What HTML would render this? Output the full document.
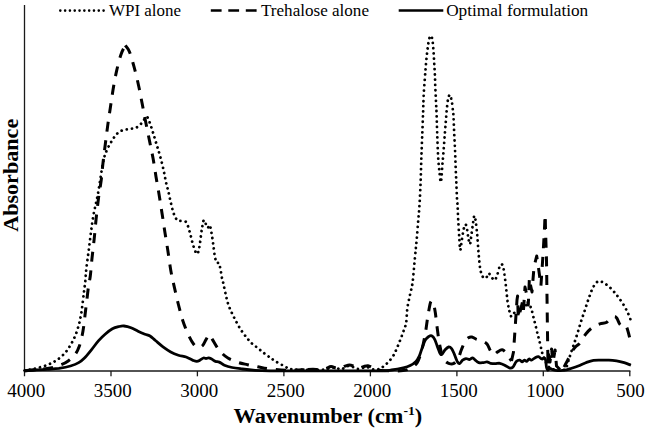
<!DOCTYPE html>
<html><head><meta charset="utf-8">
<style>
html,body{margin:0;padding:0;background:#fff;}
body{width:646px;height:430px;overflow:hidden;}
svg{display:block}
text{font-family:"Liberation Serif",serif;fill:#000}
</style></head><body>
<svg width="646" height="430" viewBox="0 0 646 430">
<rect width="646" height="430" fill="#fff"/>
<!-- axes -->
<g stroke="#1a1a1a" stroke-width="1.3" fill="none">
<line x1="24.5" y1="5" x2="24.5" y2="376.3"/>
<line x1="24" y1="371" x2="630.4" y2="371"/>
<line x1="111.0" y1="371" x2="111.0" y2="376.3"/>
<line x1="197.4" y1="371" x2="197.4" y2="376.3"/>
<line x1="283.9" y1="371" x2="283.9" y2="376.3"/>
<line x1="370.4" y1="371" x2="370.4" y2="376.3"/>
<line x1="456.9" y1="371" x2="456.9" y2="376.3"/>
<line x1="543.3" y1="371" x2="543.3" y2="376.3"/>
<line x1="629.8" y1="371" x2="629.8" y2="376.3"/>
</g>
<g font-size="18.3">
<text x="7.3" y="396.5" textLength="38.0" lengthAdjust="spacingAndGlyphs">4000</text>
<text x="93.8" y="396.5" textLength="38.0" lengthAdjust="spacingAndGlyphs">3500</text>
<text x="180.3" y="396.5" textLength="38.0" lengthAdjust="spacingAndGlyphs">3000</text>
<text x="266.8" y="396.5" textLength="38.0" lengthAdjust="spacingAndGlyphs">2500</text>
<text x="353.3" y="396.5" textLength="38.0" lengthAdjust="spacingAndGlyphs">2000</text>
<text x="439.8" y="396.5" textLength="38.0" lengthAdjust="spacingAndGlyphs">1500</text>
<text x="526.3" y="396.5" textLength="38.0" lengthAdjust="spacingAndGlyphs">1000</text>
<text x="616.2" y="396.5" textLength="28.5" lengthAdjust="spacingAndGlyphs">500</text>
</g>
<text x="233.6" y="422.5" font-size="20.5" font-weight="bold" textLength="188.6" lengthAdjust="spacingAndGlyphs">Wavenumber (cm<tspan font-size="12.5" dy="-8">-1</tspan><tspan dy="8">)</tspan></text>
<text transform="translate(17.6,231.8) rotate(-90)" font-size="21" font-weight="bold" textLength="113" lengthAdjust="spacingAndGlyphs">Absorbance</text>
<!-- legend -->
<g font-size="16">
<text x="109" y="15.7" textLength="72" lengthAdjust="spacingAndGlyphs">WPI alone</text>
<text x="261" y="15.7" textLength="108" lengthAdjust="spacingAndGlyphs">Trehalose alone</text>
<text x="446.2" y="15.7" textLength="142" lengthAdjust="spacingAndGlyphs">Optimal formulation</text>
</g>
<g stroke="#000" fill="none">
<line x1="60.3" y1="10.6" x2="104.5" y2="10.6" stroke-width="2.6" stroke-dasharray="0.01 4.8" stroke-linecap="round"/>
<line x1="210.8" y1="10.5" x2="257" y2="10.5" stroke-width="2.6" stroke-dasharray="10.8 6.7"/>
<line x1="398.7" y1="10.5" x2="443.3" y2="10.5" stroke-width="2.5"/>
</g>
<!--CURVES-->
<g fill="none" stroke="#000" stroke-linejoin="round">
<path d="M24.5,370.5C26.4,370.1 31.8,369.3 35.6,368.4C39.4,367.5 43.8,366.3 47.3,364.9C50.8,363.5 53.7,362.1 56.6,360.2C59.5,358.3 62.4,355.8 64.7,353.3C67.0,350.8 68.8,348.0 70.5,345.1C72.2,342.2 73.8,339.1 75.2,335.8C76.6,332.5 77.7,328.8 78.7,325.3C79.7,321.8 80.3,318.6 81.0,314.9C81.7,311.2 82.1,307.2 82.6,303.3C83.1,299.4 83.6,295.1 84.0,291.6C84.4,288.1 84.8,286.1 85.2,282.3C85.6,278.5 85.7,274.3 86.3,269.0C86.9,263.7 87.9,256.7 88.7,250.5C89.5,244.3 90.2,238.1 91.0,231.9C91.8,225.7 92.6,219.7 93.8,213.3C95.0,206.9 96.5,201.9 98.0,193.5C99.5,185.1 101.6,169.9 103.0,162.8C104.4,155.7 105.1,154.5 106.5,151.0C107.9,147.5 109.5,144.8 111.2,141.9C113.0,139.0 115.1,135.6 117.0,133.7C118.9,131.8 120.7,131.0 122.8,130.2C124.9,129.4 127.5,129.5 129.8,129.0C132.1,128.5 134.6,128.6 136.7,127.4C138.8,126.2 141.0,123.8 142.6,122.0C144.2,120.2 145.3,116.7 146.5,116.7C147.7,116.7 148.4,119.3 149.5,122.0C150.6,124.7 151.8,128.9 153.0,132.6C154.2,136.3 155.3,140.3 156.5,144.2C157.7,148.1 158.8,151.5 160.0,155.8C161.2,160.1 162.5,165.4 163.5,169.8C164.5,174.2 165.2,178.7 166.0,182.3C166.8,185.9 167.6,188.3 168.4,191.6C169.2,194.9 169.9,198.8 170.7,202.1C171.5,205.4 172.2,208.9 173.0,211.4C173.8,213.9 174.4,215.6 175.3,217.2C176.2,218.8 176.7,220.0 178.4,220.7C180.1,221.4 183.7,220.4 185.3,221.4C186.9,222.4 187.2,224.1 188.1,226.5C189.0,228.9 189.8,232.5 190.7,235.8C191.6,239.1 192.4,243.3 193.5,246.3C194.6,249.3 196.0,253.8 197.0,254.0C198.0,254.2 198.7,250.4 199.3,247.4C200.0,244.4 200.4,239.3 200.9,235.8C201.4,232.3 201.8,229.1 202.3,226.5C202.8,223.9 203.3,220.2 204.0,220.0C204.7,219.8 205.7,224.0 206.3,225.3C207.0,226.6 207.3,227.7 207.9,227.7C208.5,227.7 209.2,224.3 209.8,225.3C210.4,226.3 211.0,230.2 211.6,233.5C212.2,236.8 212.8,241.2 213.3,245.1C213.9,249.0 214.3,253.8 214.9,256.7C215.5,259.6 216.0,261.5 216.7,262.6C217.4,263.7 218.3,262.0 219.0,263.3C219.7,264.6 220.2,268.1 220.7,270.7C221.2,273.3 221.7,276.8 222.1,278.8C222.5,280.8 222.6,280.2 223.2,282.8C223.8,285.4 224.8,290.7 225.7,294.3C226.5,297.9 227.2,301.3 228.3,304.5C229.4,307.7 230.7,310.5 232.1,313.5C233.5,316.5 235.2,319.7 236.7,322.5C238.2,325.3 239.5,327.7 241.1,330.1C242.7,332.5 244.5,334.9 246.2,337.0C247.9,339.1 249.4,341.1 251.3,342.9C253.2,344.7 255.6,346.3 257.7,348.0C259.8,349.7 262.1,351.6 264.1,353.2C266.2,354.8 268.2,356.2 270.0,357.5C271.8,358.8 272.8,359.6 274.9,360.9C276.9,362.2 280.0,363.9 282.3,365.1C284.6,366.3 286.4,367.6 288.5,368.3C290.6,369.0 289.4,369.2 294.7,369.5C299.9,369.8 313.4,370.1 320.0,369.8C326.6,369.5 330.8,367.6 334.3,367.5C337.8,367.4 338.5,369.6 341.0,369.3C343.5,369.0 346.4,365.9 349.2,365.8C352.0,365.8 355.1,368.8 358.0,369.0C360.9,369.2 363.8,366.9 366.5,367.0C369.2,367.1 371.8,369.3 374.0,369.6C376.2,369.9 377.9,369.4 379.5,368.8C381.1,368.2 382.1,367.4 383.6,366.3C385.1,365.2 386.7,363.8 388.3,362.1C389.9,360.4 391.8,358.2 393.2,355.9C394.6,353.6 395.6,351.2 396.8,348.5C398.0,345.8 399.2,342.7 400.3,339.8C401.4,336.9 402.5,334.0 403.5,331.1C404.5,328.2 405.6,326.4 406.2,322.5C406.8,318.6 406.7,312.6 407.4,307.9C408.1,303.1 409.3,298.3 410.2,294.0C411.1,289.7 411.8,288.3 412.6,282.3C413.4,276.3 414.2,265.2 414.9,258.1C415.6,251.0 416.1,246.1 416.7,239.5C417.3,232.9 417.9,224.3 418.4,218.6C418.9,212.8 419.1,211.5 419.5,205.0C419.9,198.5 420.4,187.9 420.7,179.8C421.0,171.7 421.1,164.2 421.4,156.5C421.7,148.8 422.0,140.2 422.3,133.3C422.6,126.4 422.8,119.5 423.0,115.0C423.2,110.5 423.2,109.4 423.3,106.0C423.4,102.6 423.5,98.7 423.7,94.4C423.9,90.2 424.4,84.8 424.7,80.5C425.0,76.2 425.3,72.5 425.6,68.8C425.9,65.1 426.1,61.9 426.5,58.4C426.9,54.9 427.2,51.2 427.7,47.9C428.2,44.6 428.7,40.6 429.3,38.6C429.9,36.6 430.6,35.3 431.2,35.8C431.8,36.3 432.2,38.8 432.6,41.4C433.0,44.0 433.2,47.8 433.5,51.4C433.8,55.0 434.0,59.1 434.2,63.0C434.4,66.9 434.7,70.6 434.9,74.7C435.1,78.8 435.1,83.0 435.3,87.4C435.5,91.9 435.8,97.0 436.0,101.4C436.2,105.8 436.4,108.7 436.6,114.0C436.8,119.3 436.9,126.2 437.2,133.3C437.4,140.4 437.8,150.3 438.1,156.5C438.5,162.7 438.8,166.2 439.3,170.5C439.8,174.8 440.4,182.9 440.9,182.1C441.4,181.3 441.9,170.8 442.3,165.8C442.7,160.8 443.1,156.9 443.5,151.9C443.9,146.9 444.3,140.7 444.7,135.6C445.1,130.5 445.5,125.2 445.8,121.6C446.1,118.0 446.2,116.4 446.4,114.0C446.6,111.6 446.7,109.7 447.0,107.2C447.3,104.7 447.6,101.1 448.1,99.1C448.6,97.0 449.2,94.7 449.8,94.9C450.4,95.1 451.1,97.8 451.6,100.2C452.1,102.6 452.5,107.0 452.8,109.5C453.1,112.0 453.2,111.8 453.4,115.0C453.6,118.2 453.8,123.2 454.0,128.6C454.2,134.0 454.6,141.0 454.9,147.2C455.2,153.4 455.4,160.0 455.6,165.8C455.8,171.6 456.1,176.7 456.3,182.1C456.5,187.5 456.8,194.4 457.0,198.4C457.2,202.4 457.4,202.6 457.6,206.0C457.8,209.4 457.9,213.8 458.1,218.6C458.4,223.4 458.8,229.7 459.1,234.9C459.5,240.1 459.7,249.2 460.2,250.0C460.7,250.8 461.3,243.0 461.9,239.5C462.5,236.0 463.1,231.6 463.7,229.1C464.3,226.6 465.0,224.2 465.6,224.4C466.2,224.6 466.7,227.9 467.2,230.2C467.7,232.5 467.9,236.1 468.4,238.4C468.9,240.7 469.5,244.8 470.0,244.2C470.5,243.6 470.9,238.4 471.4,234.9C471.9,231.4 472.5,226.5 473.0,223.3C473.5,220.1 473.9,216.0 474.4,215.8C474.9,215.6 475.4,219.3 475.8,222.1C476.2,224.9 476.6,228.9 477.0,232.6C477.4,236.3 477.6,240.3 477.9,244.2C478.2,248.1 478.4,251.9 478.8,255.8C479.2,259.7 479.5,264.3 480.0,267.4C480.5,270.5 480.9,272.6 481.6,274.4C482.3,276.2 483.3,278.0 484.2,278.4C485.1,278.8 486.2,277.5 487.0,276.7C487.8,275.9 488.1,273.3 488.8,273.3C489.5,273.3 490.2,275.6 491.2,276.7C492.2,277.8 493.7,280.6 494.7,280.2C495.7,279.8 496.5,276.7 497.4,274.4C498.2,272.1 499.0,267.9 499.8,266.3C500.6,264.7 501.4,263.8 502.1,264.5C502.8,265.2 503.4,267.8 503.9,270.5C504.4,273.2 504.9,277.3 505.3,281.0C505.8,284.7 506.2,289.0 506.6,292.7C507.0,296.4 507.3,300.0 507.8,303.1C508.3,306.2 508.9,309.2 509.5,311.5C510.1,313.8 510.7,316.5 511.6,316.7C512.5,316.9 513.7,313.1 514.7,312.5C515.8,311.9 517.0,313.2 517.9,313.0C518.8,312.8 519.1,312.4 520.0,311.5C520.9,310.6 522.1,308.4 523.1,307.3C524.1,306.2 525.2,305.6 526.2,305.2C527.2,304.8 528.5,304.5 529.4,305.2C530.3,305.9 530.8,307.3 531.5,309.4C532.2,311.5 532.9,315.0 533.6,317.8C534.3,320.6 535.0,323.3 535.7,326.1C536.4,328.9 537.1,332.1 537.7,334.5C538.3,336.9 538.8,338.2 539.4,340.8C540.0,343.4 540.9,347.5 541.5,350.0C542.1,352.5 542.4,353.8 543.0,355.6C543.6,357.4 544.5,359.3 545.3,361.0C546.1,362.7 546.9,364.7 548.0,366.0C549.1,367.3 550.3,368.3 552.0,369.0C553.7,369.7 556.2,369.9 558.0,370.0C559.8,370.1 561.7,370.0 563.0,369.8C564.3,369.6 564.9,370.5 565.9,368.6C566.9,366.7 568.0,361.9 569.2,358.3C570.4,354.7 571.7,350.6 573.0,346.8C574.3,343.0 575.6,339.4 576.9,335.3C578.2,331.2 579.4,326.6 580.7,322.5C582.0,318.4 583.3,314.9 584.6,311.0C585.9,307.1 587.1,303.0 588.4,299.4C589.7,295.8 590.9,292.0 592.2,289.2C593.5,286.4 594.8,284.1 596.1,282.8C597.4,281.5 598.6,281.5 599.9,281.5C601.2,281.5 602.3,281.9 603.8,282.8C605.3,283.7 607.2,285.1 608.9,286.6C610.6,288.1 612.3,289.9 614.0,291.8C615.7,293.7 617.4,295.9 619.1,298.2C620.8,300.5 622.7,303.2 624.2,305.8C625.7,308.4 627.0,311.1 628.1,313.5C629.2,315.9 630.2,318.8 630.6,319.9" stroke-width="2.8" stroke-linecap="round" stroke-dasharray="0.01 5.25"/>
<path d="M24.5,370.7C28.3,370.3 41.6,369.2 47.3,368.4C53.0,367.5 55.4,366.9 58.9,365.6C62.4,364.4 65.5,362.8 68.2,360.9C70.9,359.0 73.4,356.8 75.2,354.4C77.0,352.0 78.2,349.4 79.3,346.3C80.4,343.2 81.3,339.5 82.1,335.8C82.9,332.1 83.4,328.5 84.0,324.2C84.6,319.9 85.0,314.8 85.6,310.2C86.1,305.6 86.8,300.6 87.3,296.3C87.8,292.1 88.2,288.1 88.7,284.7C89.2,281.3 89.7,280.6 90.3,276.0C90.9,271.4 91.4,263.6 92.1,257.4C92.8,251.2 93.5,245.2 94.2,238.8C94.9,232.4 95.4,225.6 96.1,219.0C96.8,212.4 97.6,205.5 98.4,199.0C99.2,192.5 100.4,186.2 101.2,180.2C102.0,174.2 102.3,168.8 103.0,162.8C103.7,156.8 104.5,150.4 105.3,144.2C106.1,138.0 106.9,131.6 107.7,125.6C108.5,119.6 109.4,113.9 110.3,108.0C111.2,102.1 112.0,96.1 113.0,90.0C114.0,83.9 115.2,77.3 116.5,71.4C117.8,65.5 119.5,58.8 121.0,54.4C122.5,50.0 124.6,46.8 125.3,45.3" stroke-width="3" stroke-dasharray="10 8.7"/>
<path d="M125.3,45.3C126.0,46.3 127.9,47.8 129.3,51.4C130.8,55.0 132.5,61.2 134.0,66.7C135.5,72.2 137.1,78.6 138.4,84.7C139.8,90.8 140.9,97.2 142.1,103.3C143.3,109.4 144.4,115.3 145.6,121.5C146.8,127.7 148.3,134.6 149.5,140.7C150.7,146.8 151.9,152.0 153.0,158.0C154.1,164.0 155.0,170.5 156.0,176.7C157.0,182.9 158.2,189.0 159.2,195.2C160.2,201.4 161.1,207.5 162.1,213.7C163.1,219.9 163.9,226.1 164.9,232.3C165.9,238.5 166.9,244.5 167.9,250.9C168.9,257.3 169.7,264.3 170.8,270.5C171.9,276.7 173.2,282.2 174.5,287.9C175.8,293.6 177.0,298.9 178.4,304.5C179.8,310.1 181.3,316.1 183.0,321.2C184.7,326.3 186.8,331.5 188.6,335.3C190.4,339.1 192.1,342.2 193.7,344.2C195.3,346.2 196.8,347.3 198.3,347.5C199.8,347.7 201.4,346.8 202.7,345.5C204.0,344.2 204.9,341.4 206.0,339.6C207.1,337.8 208.1,334.8 209.1,334.7C210.1,334.6 210.9,337.1 212.2,339.1C213.5,341.1 215.2,344.5 216.8,346.8C218.4,349.1 220.0,351.3 221.9,353.2C223.8,355.1 225.8,356.8 228.3,358.3C230.9,359.8 234.0,361.0 237.2,362.1C240.4,363.2 244.1,363.9 247.5,364.7C250.9,365.5 253.9,366.0 257.7,366.7C261.4,367.4 264.6,368.4 270.0,369.0C275.4,369.6 283.7,370.3 290.0,370.4C296.3,370.5 304.8,369.7 307.7,369.6" stroke-width="3" stroke-dasharray="10 8.7"/>
<path d="M307.7,369.6C308.6,369.5 310.9,369.2 313.0,369.2C315.1,369.2 317.8,369.7 320.0,369.6C322.2,369.5 324.2,369.1 326.0,368.6C327.8,368.1 329.3,366.7 331.0,366.6C332.7,366.5 334.5,367.7 336.0,368.0C337.5,368.3 338.5,368.9 340.0,368.6C341.5,368.3 343.4,366.8 345.0,366.2C346.6,365.6 348.0,364.9 349.5,364.9C351.0,364.9 352.4,365.6 354.0,366.2C355.6,366.8 357.4,368.2 359.0,368.3C360.6,368.4 362.0,367.0 363.5,366.6C365.0,366.2 366.4,365.5 368.0,365.7C369.6,365.9 371.3,367.1 373.0,367.8C374.7,368.5 375.2,369.5 378.0,370.0C380.8,370.5 385.8,370.7 390.0,370.8C394.2,370.9 399.6,371.0 403.0,370.6C406.4,370.2 407.8,369.7 410.2,368.4C412.6,367.1 415.2,365.7 417.2,362.6C419.1,359.5 420.5,354.7 421.9,349.8C423.2,344.9 424.3,338.9 425.3,333.5C426.3,328.1 426.9,322.1 427.7,317.2C428.5,312.3 429.4,307.1 430.0,304.4C430.6,301.7 431.0,301.1 431.6,300.9C432.2,300.7 432.9,301.4 433.5,303.3C434.1,305.2 434.7,308.7 435.3,312.6C435.9,316.5 436.3,321.5 437.0,326.5C437.7,331.5 438.4,337.9 439.3,342.8C440.2,347.7 441.3,352.6 442.3,355.6C443.3,358.6 444.1,359.6 445.1,360.9C446.2,362.2 447.2,362.8 448.6,363.3C450.0,363.8 451.8,364.4 453.3,363.7C454.9,363.0 456.5,361.4 457.9,359.1C459.2,356.8 460.2,352.7 461.4,349.8C462.6,346.9 463.7,343.6 464.9,341.6C466.1,339.6 467.2,338.5 468.4,337.7C469.6,336.9 470.5,336.7 471.9,337.0C473.2,337.3 474.8,338.7 476.5,339.3C478.2,339.9 480.6,340.1 482.3,340.9C484.1,341.7 485.6,342.3 487.0,344.0C488.4,345.7 489.4,349.1 490.5,350.9C491.6,352.7 492.4,354.7 493.5,354.9C494.6,355.1 496.0,353.0 497.4,352.1C498.8,351.2 500.6,349.6 502.1,349.8C503.7,350.0 505.5,351.9 506.7,353.3C507.9,354.7 508.7,356.7 509.5,358.0C510.3,359.3 511.2,360.5 511.5,361.0" stroke-width="3" stroke-dasharray="10 8.7"/>
<path d="M511.5,361.0L513.5,352.0L515.0,330.0L517.0,300.0L517.6,296.0L518.2,318.0L520.0,312.0L522.5,302.0L523.5,310.0L525.0,287.0L527.0,296.0L528.3,305.0L529.4,278.0L530.5,285.0L532.0,292.0L534.0,267.0L536.7,256.0L538.8,270.0L540.9,286.0L542.4,264.0L543.3,250.0L545.0,219.0" stroke-width="3" stroke-dasharray="10 8.7"/>
<path d="M545.2,219.0L546.5,260.0L547.6,340.0L548.0,366.0L548.8,350.0L550.0,362.0L551.6,349.0L553.0,362.0L555.1,350.0L556.5,366.0L560.0,369.5L564.0,367.0" stroke-width="3" stroke-dasharray="10 8.7"/>
<path d="M564.0,367.0C564.4,366.2 565.3,364.7 566.6,362.2C567.9,359.7 570.3,354.5 571.8,351.9C573.3,349.3 574.3,348.2 575.6,346.8C576.9,345.4 577.7,345.6 579.4,343.5C581.1,341.4 583.7,336.6 585.8,334.0C587.9,331.4 589.9,329.3 592.2,327.6C594.6,325.9 597.5,324.7 599.9,323.8C602.2,322.9 604.4,323.6 606.3,322.5C608.2,321.4 609.9,318.3 611.4,317.4C612.9,316.4 614.3,316.6 615.3,316.8C616.2,317.0 616.2,317.2 617.1,318.6C618.0,320.0 619.2,324.1 620.4,325.0C621.6,325.9 623.1,323.9 624.2,324.3C625.3,324.7 625.9,325.6 626.8,327.6C627.7,329.7 628.7,333.8 629.4,336.6C630.1,339.4 630.6,342.9 630.9,344.2" stroke-width="3" stroke-dasharray="10 8.7"/>
<path d="M24.5,370.8C26.4,370.7 31.8,370.2 35.6,370.0C39.4,369.8 43.4,369.6 47.3,369.3C51.2,369.0 55.0,368.9 58.9,368.4C62.8,367.8 67.2,367.0 70.5,366.0C73.8,365.0 76.4,364.0 78.7,362.6C81.0,361.2 82.4,360.0 84.5,357.9C86.6,355.8 89.1,352.6 91.4,349.8C93.7,347.0 96.1,343.5 98.4,340.9C100.7,338.3 103.1,336.0 105.4,334.0C107.7,332.0 110.1,330.1 112.4,328.8C114.7,327.6 117.4,327.0 119.3,326.5C121.2,326.0 122.0,325.8 124.0,326.0C126.0,326.2 128.7,326.8 131.0,327.7C133.3,328.6 135.7,330.1 138.0,331.2C140.3,332.3 142.9,333.4 144.9,334.2C146.9,335.0 148.2,334.9 150.0,336.0C151.8,337.1 153.2,338.7 155.4,340.5C157.6,342.3 160.4,344.9 163.0,346.8C165.6,348.7 168.1,350.5 170.7,351.9C173.3,353.3 175.8,354.3 178.4,355.2C181.0,356.1 183.8,356.2 186.1,357.0C188.4,357.8 190.7,359.4 192.5,360.1C194.3,360.8 195.5,361.4 196.8,361.4C198.1,361.4 199.0,360.7 200.1,360.1C201.2,359.5 202.5,358.3 203.5,358.0C204.5,357.7 205.2,358.5 206.0,358.5C206.8,358.5 207.7,357.7 208.6,357.8C209.5,357.9 210.4,358.4 211.6,359.0C212.8,359.6 214.2,360.9 215.5,361.4C216.8,361.9 217.8,361.5 219.3,362.1C220.8,362.7 222.3,364.3 224.4,365.2C226.5,366.1 229.1,366.9 232.1,367.5C235.1,368.1 238.6,368.5 242.4,369.0C246.2,369.5 250.6,370.0 255.2,370.3C259.8,370.6 262.5,370.7 270.0,370.8C277.5,370.9 288.3,370.9 300.0,370.9C311.7,370.9 326.7,370.9 340.0,370.9C353.3,370.9 371.4,370.9 380.0,370.8C388.6,370.7 387.7,370.5 391.6,370.0C395.5,369.5 400.2,368.6 403.3,367.9C406.4,367.2 408.1,366.7 410.2,365.6C412.3,364.5 414.4,363.1 416.0,361.4C417.6,359.7 418.4,357.9 419.5,355.6C420.6,353.3 421.3,350.0 422.3,347.4C423.3,344.8 424.2,341.8 425.3,340.0C426.4,338.2 427.8,337.2 428.8,336.5C429.9,335.8 430.6,335.3 431.6,335.8C432.6,336.3 433.7,337.4 434.7,339.3C435.7,341.2 436.8,345.1 437.7,347.4C438.6,349.7 439.3,352.1 440.0,353.3C440.7,354.5 441.0,355.0 441.9,354.4C442.8,353.8 444.0,351.0 445.1,349.8C446.2,348.6 447.5,347.2 448.6,347.0C449.7,346.8 450.6,347.4 451.6,348.6C452.6,349.8 453.5,352.3 454.4,354.4C455.3,356.5 456.3,359.8 457.2,361.4C458.1,362.9 458.6,363.9 459.5,363.7C460.4,363.5 461.5,361.0 462.6,360.2C463.7,359.4 464.9,358.7 466.0,358.6C467.1,358.5 468.4,359.6 469.5,359.5C470.6,359.4 471.6,357.8 472.6,357.9C473.6,358.0 474.3,359.4 475.3,360.2C476.3,361.0 477.4,362.2 478.8,362.6C480.2,363.0 482.1,362.7 483.5,362.6C484.9,362.5 485.8,361.8 487.0,361.9C488.2,362.0 489.1,363.0 490.5,363.3C491.9,363.6 493.6,363.7 495.1,363.7C496.7,363.7 498.2,363.1 499.8,363.3C501.4,363.6 503.1,364.4 504.7,365.2C506.3,366.0 508.0,367.6 509.3,367.9C510.6,368.2 511.6,368.3 512.8,367.2C514.0,366.1 515.1,362.6 516.3,361.4C517.5,360.2 518.8,360.1 519.8,360.2C520.8,360.3 521.3,361.9 522.1,361.9C522.9,361.9 523.6,360.3 524.4,360.2C525.2,360.1 525.9,361.6 526.7,361.4C527.5,361.2 528.2,359.2 529.0,359.0C529.8,358.8 530.4,360.4 531.4,360.2C532.4,360.0 533.7,358.5 534.9,357.9C536.1,357.3 537.2,356.5 538.4,356.7C539.6,356.9 540.9,358.8 541.9,359.0C542.9,359.2 543.6,357.7 544.2,357.9C544.8,358.1 545.2,358.6 545.6,360.2C546.0,361.8 546.1,365.5 546.5,367.2C546.9,368.9 547.1,370.0 547.7,370.2C548.3,370.4 549.2,368.5 550.0,368.4C550.8,368.3 551.3,369.2 552.3,369.5C553.3,369.8 554.4,370.2 555.8,370.4C557.2,370.6 559.0,370.6 560.5,370.6C562.0,370.6 563.4,370.5 565.1,370.2C566.8,369.9 568.3,369.3 570.5,368.6C572.7,367.9 575.7,367.0 578.2,366.0C580.8,365.0 583.2,363.6 585.8,362.7C588.3,361.8 590.9,360.8 593.5,360.4C596.1,360.0 598.6,360.2 601.2,360.1C603.8,360.1 606.3,360.0 608.9,360.1C611.5,360.2 614.0,360.5 616.6,360.9C619.2,361.3 621.8,362.0 624.2,362.7C626.6,363.4 629.8,364.8 630.9,365.2" stroke-width="2.8"/>
</g>
<!--ENDCURVES-->
</svg>
</body></html>
